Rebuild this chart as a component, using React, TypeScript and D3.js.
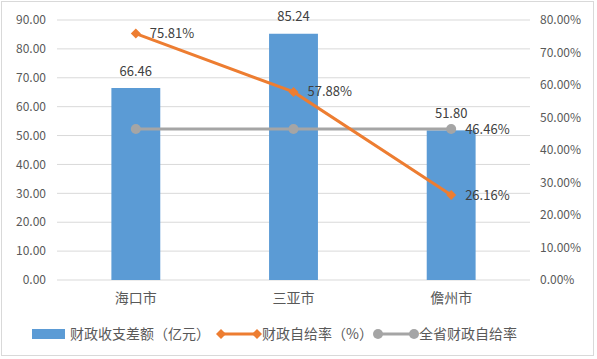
import React from 'react';
import * as d3 from 'd3';

const categories = ['海口市', '三亚市', '儋州市'];
const gapValues = [66.46, 85.24, 51.8];
const selfRate = [75.81, 57.88, 26.16];
const provinceRate = [46.46, 46.46, 46.46];
const leftTicks = [0, 10, 20, 30, 40, 50, 60, 70, 80, 90];
const rightTicks = [0, 10, 20, 30, 40, 50, 60, 70, 80];
const legendNames = ['财政收支差额（亿元）', '财政自给率（%）', '全省财政自给率'];

const W = 597;
const H = 359;
const font = '"Noto Sans CJK SC", "Noto Sans", sans-serif';

const App = () => {
  const margin = { top: 20, right: 67, bottom: 79, left: 57 };
  const x = d3.scaleBand().domain(categories).range([margin.left, W - margin.right]);
  const yL = d3.scaleLinear().domain([0, 90]).range([H - margin.bottom, margin.top]);
  const yR = d3.scaleLinear().domain([0, 80]).range([H - margin.bottom, margin.top]);
  const barW = x.bandwidth() * 0.31;
  const cx = (c: string) => (x(c) as number) + x.bandwidth() / 2;

  const line = d3.line<[number, number]>().x(d => d[0]).y(d => d[1]);
  const selfPts: [number, number][] = categories.map((c, i) => [cx(c), yR(selfRate[i])]);
  const provPts: [number, number][] = categories.map((c, i) => [cx(c), yR(provinceRate[i])]);

  const diamond = (px: number, py: number, r: number) =>
    `M${px},${py - r}L${px + r},${py}L${px},${py + r}L${px - r},${py}Z`;

  const blue = '#5b9bd5';
  const orange = '#ed7d31';
  const gray = '#a5a5a5';
  const textCol = '#595959';

  return (
    <svg width={W} height={H} style={{ position: 'absolute', left: 0, top: 0, background: '#fff' }} fontFamily={font}>
      <rect x={1.5} y={1.5} width={W - 5} height={H - 5} fill="#fff" stroke="#d9d9d9" />
      {leftTicks.map(t => (
        <line key={t} x1={margin.left} x2={W - margin.right} y1={yL(t)} y2={yL(t)} stroke="#d9d9d9" strokeWidth={1} />
      ))}
      {leftTicks.map(t => (
        <text key={'l' + t} x={46} y={yL(t)} dy="0.35em" textAnchor="end" fontSize={12} fill={textCol}>
          {t.toFixed(2)}
        </text>
      ))}
      {rightTicks.map(t => (
        <text key={'r' + t} x={540} y={yR(t)} dy="0.35em" textAnchor="start" fontSize={12} fill={textCol}>
          {t.toFixed(2) + '%'}
        </text>
      ))}
      {categories.map((c, i) => (
        <g key={c}>
          <rect x={cx(c) - barW / 2} y={yL(gapValues[i])} width={barW} height={yL(0) - yL(gapValues[i])} fill={blue} />
          <text x={cx(c)} y={yL(gapValues[i]) - 17} dy="0.35em" textAnchor="middle" fontSize={13} fill="#404040">
            {gapValues[i].toFixed(2)}
          </text>
          <text x={cx(c)} y={298} dy="0.35em" textAnchor="middle" fontSize={14} fill={textCol}>
            {c}
          </text>
        </g>
      ))}
      <path d={line(provPts) as string} fill="none" stroke={gray} strokeWidth={3} />
      {provPts.map((p, i) => (
        <circle key={'pc' + i} cx={p[0]} cy={p[1]} r={5} fill={gray} />
      ))}
      <path d={line(selfPts) as string} fill="none" stroke={orange} strokeWidth={3} />
      {selfPts.map((p, i) => (
        <path key={'sd' + i} d={diamond(p[0], p[1], 5)} fill={orange} />
      ))}
      {selfPts.map((p, i) => (
        <text key={'sl' + i} x={p[0] + 14} y={p[1]} dy="0.35em" fontSize={13} fill="#404040">
          {selfRate[i].toFixed(2) + '%'}
        </text>
      ))}
      <text x={provPts[2][0] + 14} y={provPts[2][1]} dy="0.35em" fontSize={13} fill="#404040">
        {provinceRate[2].toFixed(2) + '%'}
      </text>
      <g fontSize={14} fill={textCol}>
        <rect x={32} y={329} width={33} height={10} fill={blue} />
        <text x={70} y={334} dy="0.35em">{legendNames[0]}</text>
        <line x1={221} x2={257} y1={334} y2={334} stroke={orange} strokeWidth={3} />
        <path d={diamond(221, 334, 5)} fill={orange} />
        <path d={diamond(257, 334, 5)} fill={orange} />
        <text x={262} y={334} dy="0.35em">{legendNames[1]}</text>
        <line x1={378} x2={414} y1={334} y2={334} stroke={gray} strokeWidth={3} />
        <circle cx={378} cy={334} r={5} fill={gray} />
        <circle cx={414} cy={334} r={5} fill={gray} />
        <text x={419} y={334} dy="0.35em">{legendNames[2]}</text>
      </g>
    </svg>
  );
};

export default App;
